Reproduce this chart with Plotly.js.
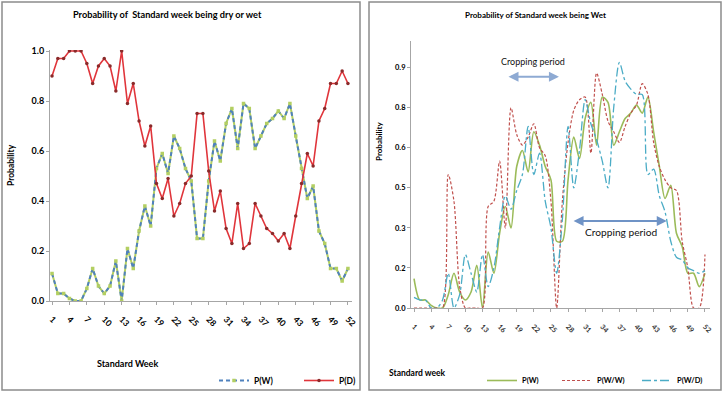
<!DOCTYPE html>
<html>
<head>
<meta charset="utf-8">
<script src="https://cdn.plot.ly/plotly-3.0.1.min.js"></script>
<style>html,body{margin:0;padding:0;background:#fff;}#chart{width:724px;height:396px;}</style>
</head>
<body>
<div id="chart"></div>
<script>
// ---- data ----
const weeks = [1,2,3,4,5,6,7,8,9,10,11,12,13,14,15,16,17,18,19,20,21,22,23,24,25,26,
               27,28,29,30,31,32,33,34,35,36,37,38,39,40,41,42,43,44,45,46,47,48,49,50,51,52];
const tickWeeks = [1,4,7,10,13,16,19,22,25,28,31,34,37,40,43,46,49,52];

// Left chart: probability of week being dry / wet
const pDry = [0.90,0.97,0.97,1.00,1.00,1.00,0.95,0.87,0.94,0.97,0.94,0.84,1.00,0.79,0.87,0.72,0.62,0.70,0.47,0.41,
              0.49,0.34,0.39,0.47,0.50,0.75,0.75,0.52,0.36,0.44,0.29,0.23,0.39,0.21,0.23,0.39,0.34,0.29,0.27,0.24,
              0.27,0.21,0.34,0.47,0.59,0.54,0.72,0.77,0.87,0.87,0.92,0.87];
const pWet = [0.11,0.03,0.03,0.01,0.00,0.00,0.05,0.13,0.06,0.03,0.06,0.16,0.00,0.21,0.13,0.28,0.38,0.30,0.53,0.59,
              0.51,0.66,0.61,0.53,0.48,0.25,0.25,0.48,0.64,0.56,0.71,0.77,0.61,0.79,0.77,0.61,0.66,0.71,0.73,0.76,
              0.73,0.79,0.66,0.53,0.41,0.46,0.28,0.23,0.13,0.13,0.08,0.13];

// Right chart: conditional probabilities
const pWW = [0.00,0.00,0.00,0.00,0.00,0.00,0.50,0.40,0.08,0.00,0.00,0.00,0.00,0.38,0.40,0.55,0.30,0.75,0.65,0.61,
             0.64,0.69,0.60,0.57,0.40,0.00,0.40,0.62,0.74,0.78,0.79,0.58,0.88,0.80,0.70,0.66,0.62,0.68,0.73,0.76,
             0.84,0.80,0.62,0.53,0.48,0.45,0.44,0.25,0.15,0.00,0.00,0.20];
const pWD = [0.04,0.03,0.03,0.00,0.00,0.03,0.13,0.00,0.05,0.20,0.13,0.06,0.20,0.08,0.15,0.30,0.42,0.37,0.44,0.50,
             0.68,0.50,0.58,0.40,0.30,0.13,0.33,0.68,0.45,0.59,0.78,0.69,0.63,0.55,0.45,0.75,0.92,0.85,0.82,0.80,
             0.80,0.50,0.52,0.42,0.36,0.25,0.19,0.18,0.15,0.14,0.13,0.14];

const leftYTicks = [0,0.2,0.4,0.6,0.8,1.0];
const leftYText = ['0.0','0.2','0.4','0.6','0.8','1.0'];
const rightYTicks = [0,0.15,0.30,0.45,0.60,0.75,0.90];
const rightYText = ['0.0','0.2','0.3','0.5','0.6','0.8','0.9'];

// ---- layout helpers ----
const W = 724, H = 396;
const px = x => x / W;
const py = y => 1 - y / H;
const FONT = "Lato, 'Open Sans', sans-serif";

const traces = [
  {x: weeks, y: pWet, xaxis:'x', yaxis:'y', mode:'lines', showlegend:false, hoverinfo:'skip',
   line:{color:'#b3cf62', width:2}},
  {x: weeks, y: pWet, xaxis:'x', yaxis:'y', mode:'lines+markers', name:'P(W)', legend:'legend',
   line:{color:'#4f81bd', width:2, dash:'4px,3px'}, marker:{size:3.5, color:'#b3cf62', symbol:'square'}},
  {x: weeks, y: pDry, xaxis:'x', yaxis:'y', mode:'lines+markers', name:'P(D)', legend:'legend',
   line:{color:'#e0353b', width:1.6}, marker:{size:3.5, color:'#8a2a2a'}},
  {x: weeks, y: pWet, xaxis:'x2', yaxis:'y2', mode:'lines', name:'P(W)', legend:'legend2',
   line:{color:'#9bbb59', width:1.6, shape:'spline', smoothing:0.8}},
  {x: weeks, y: pWW, xaxis:'x2', yaxis:'y2', mode:'lines', name:'P(W/W)', legend:'legend3',
   line:{color:'#c0504d', width:1.2, dash:'3px,2px', shape:'spline', smoothing:0.8}},
  {x: weeks, y: pWD, xaxis:'x2', yaxis:'y2', mode:'lines', name:'P(W/D)', legend:'legend4',
   line:{color:'#4bacc6', width:1.3, dash:'dashdot', shape:'spline', smoothing:0.8}}
];

const axisCommon = {showline:true, linecolor:'#a6a6a6', linewidth:1, showgrid:false, zeroline:false,
                    ticks:'outside', ticklen:3, tickcolor:'#a6a6a6', fixedrange:true};

const legendBase = (x, size) => ({orientation:'h', x:px(x), y:py(366), xanchor:'left', yanchor:'top',
  bgcolor:'rgba(0,0,0,0)', itemwidth:30, font:{size:size, weight:'bold', family:FONT}});

const layout = {
  width: W, height: H, margin:{l:0,r:0,t:0,b:0},
  paper_bgcolor:'#ffffff', plot_bgcolor:'rgba(0,0,0,0)',
  font:{family:FONT, color:'#000'},
  xaxis: Object.assign({}, axisCommon, {domain:[px(50), px(352)], range:[0.65,52.7], anchor:'y',
    tickvals: tickWeeks, ticktext: tickWeeks.map(String), tickangle:45, ticklabelstandoff:6,
    tickfont:{size:8.5, weight:'bold', family:FONT}}),
  yaxis: Object.assign({}, axisCommon, {domain:[py(301), py(50)], range:[0,1.004], anchor:'x',
    tickvals: leftYTicks, ticktext: leftYText, tickfont:{size:9, weight:'bold', family:FONT}}),
  xaxis2: Object.assign({}, axisCommon, {domain:[px(411), px(710)], range:[0.47,52.88], anchor:'y2',
    tickvals: tickWeeks, ticktext: tickWeeks.map(String), tickangle:45, ticklabelstandoff:8,
    tickfont:{size:7, weight:'bold', family:FONT, color:'#333'}}),
  yaxis2: Object.assign({}, axisCommon, {domain:[py(308), py(41)], range:[0,1.0], anchor:'x2',
    tickvals: rightYTicks, ticktext: rightYText, tickfont:{size:7.5, weight:'bold', family:FONT}}),
  legend: Object.assign(legendBase(214, 8.5), {entrywidth:40, entrywidthmode:'pixels'}),
  legend2: legendBase(482, 7.5),
  legend3: legendBase(557, 7.5),
  legend4: legendBase(637, 7.5),
  shapes: [
    {type:'rect', xref:'paper', yref:'paper', x0:px(2), x1:px(360), y0:py(390), y1:py(2),
     line:{color:'#8c8c8c', width:1.5}},
    {type:'rect', xref:'paper', yref:'paper', x0:px(369), x1:px(721), y0:py(390), y1:py(2),
     line:{color:'#8c8c8c', width:1.5}}
  ],
  annotations: [
    {xref:'paper', yref:'paper', x:px(167), y:py(15), xanchor:'center', yanchor:'middle',
     text:'Probability of  Standard week being dry or wet',
     showarrow:false, font:{size:9.2, weight:'bold', family:FONT}},
    {xref:'paper', yref:'paper', x:px(535), y:py(15), xanchor:'center', yanchor:'middle',
     text:'Probability of Standard week being Wet',
     showarrow:false, font:{size:8, weight:'bold', family:FONT}},
    {xref:'paper', yref:'paper', x:px(11), y:py(165), xanchor:'center', yanchor:'middle',
     text:'Probability', textangle:-90,
     showarrow:false, font:{size:8.5, weight:'bold', family:FONT}},
    {xref:'paper', yref:'paper', x:px(379), y:py(141), xanchor:'center', yanchor:'middle',
     text:'Probability', textangle:-90,
     showarrow:false, font:{size:8, weight:'bold', family:FONT}},
    {xref:'paper', yref:'paper', x:px(127), y:py(363), xanchor:'center', yanchor:'middle',
     text:'Standard Week',
     showarrow:false, font:{size:9, weight:'bold', family:FONT}},
    {xref:'paper', yref:'paper', x:px(417), y:py(373), xanchor:'center', yanchor:'middle',
     text:'Standard week',
     showarrow:false, font:{size:8.5, weight:'bold', family:FONT}},
    // cropping period labels and double arrows (right chart)
    {xref:'x2', yref:'y2', x:21.8, y:0.922, xanchor:'center', yanchor:'middle', text:'Cropping period',
     showarrow:false, font:{size:9, family:FONT, color:'#111'}},
    {xref:'x2', yref:'y2', x:26.4, y:0.866, ax:17.3, ay:0.866, axref:'x2', ayref:'y2', text:'',
     showarrow:true, arrowside:'end+start', arrowhead:2, arrowsize:1, arrowwidth:2, arrowcolor:'#8eaad3'},
    {xref:'x2', yref:'y2', x:37.2, y:0.285, xanchor:'center', yanchor:'middle', text:'Cropping period',
     showarrow:false, font:{size:10.2, family:FONT, color:'#111'}},
    {xref:'x2', yref:'y2', x:45.3, y:0.326, ax:28.7, ay:0.326, axref:'x2', ayref:'y2', text:'',
     showarrow:true, arrowside:'end+start', arrowhead:2, arrowsize:1, arrowwidth:2, arrowcolor:'#6f93c6'}
  ]
};

Plotly.newPlot('chart', traces, layout, {staticPlot:true, displayModeBar:false});
</script>
</body>
</html>
